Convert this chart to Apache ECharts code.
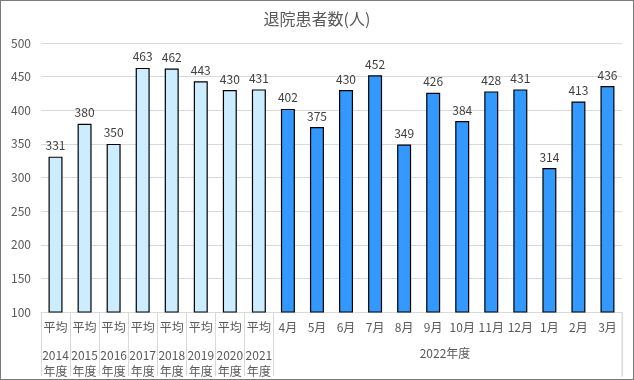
<!DOCTYPE html>
<html><head><meta charset="utf-8">
<script src="https://cdn.jsdelivr.net/npm/echarts@6/dist/echarts.min.js"></script>
<style>
html,body{margin:0;padding:0;background:#fff;}
#c{width:634px;height:380px;box-sizing:border-box;border:1px solid #7a7a7a;}
</style></head>
<body><div id="c"></div>
<script>
const titleText = '退院患者数(人)';
const categories = ['平均|2014','平均|2015','平均|2016','平均|2017','平均|2018','平均|2019','平均|2020','平均|2021',
  '4月','5月','6月','7月','8月','9月','10月','11月','12月','1月','2月','3月'];
const values = [331,380,350,463,462,443,430,431,402,375,430,452,349,426,384,428,431,314,413,436];
const groupLabel = '2022年度';
const yMin = 100, yMax = 500, yStep = 50;
const averageCount = 8;
const lightColor = '#CCECFF', darkColor = '#3399FF';
const FONT = '"Noto Sans CJK JP", "Noto Sans", sans-serif';

const chart = echarts.init(document.getElementById('c'), null, {renderer:'canvas'});
const nCat = categories.length;
const option = {
  animation:false,
  textStyle:{fontFamily:FONT},
  title:{text:titleText,left:'center',top:5,textStyle:{fontFamily:FONT,fontSize:16,fontWeight:'normal',color:'#595959'}},
  grid:{left:40,right:11,top:42,bottom:67,containLabel:false},
  xAxis:{type:'category',data:categories,
    axisLine:{show:true,lineStyle:{color:'#d9d9d9'}},
    axisTick:{show:true,length:64,lineStyle:{color:'#d9d9d9'},
      interval:function(i){return i<=averageCount;}},
    axisLabel:{interval:0,margin:9,color:'#595959',fontSize:12,fontFamily:FONT,
      formatter:function(v){
        if(v.indexOf('|')>=0){const p=v.split('|');return '{a|'+p[0]+'}\n{b|'+p[1]+'}\n{b|年度}';}
        return '{a|'+v+'}';
      },
      rich:{a:{fontSize:12,lineHeight:26,color:'#595959',fontFamily:FONT,verticalAlign:'top'},
            b:{fontSize:12,lineHeight:16,color:'#595959',fontFamily:FONT}}
    }
  },
  yAxis:{type:'value',min:yMin,max:yMax,interval:yStep,
    axisLine:{show:false},axisTick:{show:false},
    axisLabel:{color:'#595959',fontSize:12,fontFamily:FONT,margin:10},
    splitLine:{lineStyle:{color:'#d9d9d9'}}
  },
  series:[{type:'bar',barWidth:14,
    data:values.map((v,i)=>({value:v,itemStyle:{color:i<averageCount?lightColor:darkColor}})),
    itemStyle:{borderColor:'#000',borderWidth:1.2},
    label:{show:true,position:'top',distance:5,color:'#404040',fontSize:12,fontFamily:FONT}
  }]
};
chart.setOption(option);
const x0 = chart.convertToPixel({xAxisIndex:0}, categories[averageCount]);
const x1 = chart.convertToPixel({xAxisIndex:0}, categories[nCat-1]);
const lastBoundary = x1 + (x1-x0)/(nCat-1-averageCount)/2;
chart.setOption({graphic:[
  {type:'text',left:(x0+x1)/2-28,top:346,style:{text:groupLabel,fill:'#595959',font:'12px '+FONT}},
  {type:'line',shape:{x1:lastBoundary,y1:312,x2:lastBoundary,y2:376},style:{stroke:'#d9d9d9',lineWidth:1}}
]});
</script></body></html>
